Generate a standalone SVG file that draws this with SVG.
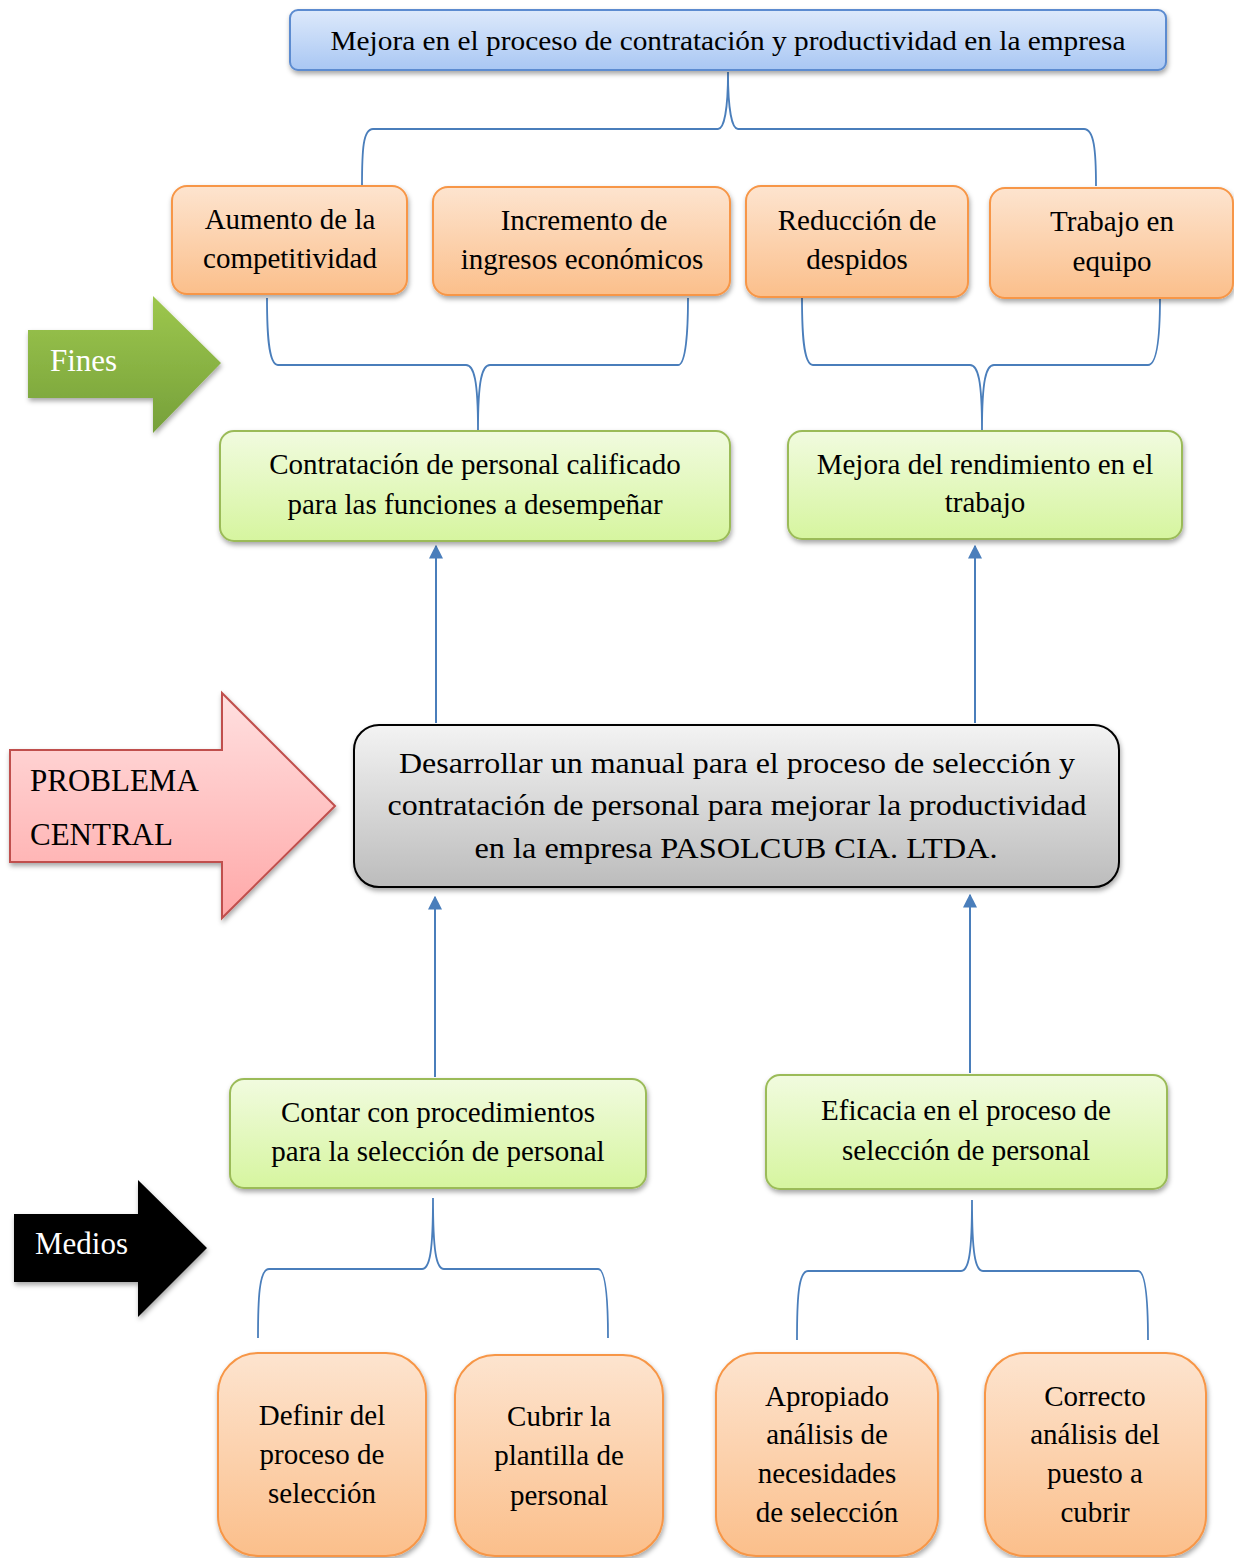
<svg xmlns="http://www.w3.org/2000/svg" width="1234" height="1558" viewBox="0 0 1234 1558">
<defs>
  <linearGradient id="gBlue" x1="0" y1="0" x2="0" y2="1"><stop offset="0" stop-color="#dde9fb"/><stop offset="1" stop-color="#a9c7f3"/></linearGradient>
  <linearGradient id="gOrange" x1="0" y1="0" x2="0" y2="1"><stop offset="0" stop-color="#fde4cf"/><stop offset="1" stop-color="#fbbf8b"/></linearGradient>
  <linearGradient id="gGreen" x1="0" y1="0" x2="0" y2="1"><stop offset="0" stop-color="#f1fbdf"/><stop offset="1" stop-color="#d6f59f"/></linearGradient>
  <linearGradient id="gGray" x1="0" y1="0" x2="0" y2="1"><stop offset="0" stop-color="#f3f3f3"/><stop offset="1" stop-color="#bcbcbc"/></linearGradient>
  <linearGradient id="gFines" x1="0" y1="0" x2="0" y2="1"><stop offset="0" stop-color="#9dc74d"/><stop offset="1" stop-color="#76a03a"/></linearGradient>
  <linearGradient id="gPink" x1="0" y1="0" x2="0" y2="1"><stop offset="0" stop-color="#ffe0e0"/><stop offset="1" stop-color="#ffa8a8"/></linearGradient>
  <filter id="sh" x="-10%" y="-10%" width="120%" height="130%"><feDropShadow dx="1" dy="3" stdDeviation="2.5" flood-color="#000" flood-opacity="0.35"/></filter>
  <marker id="ah" markerWidth="14" markerHeight="14" refX="9" refY="5" orient="auto" markerUnits="userSpaceOnUse" viewBox="0 0 10 10"><path d="M0,0 L10,5 L0,10 Z" fill="#4a7ebb"/></marker>
  <style>
    text{font-family:"Liberation Serif","Times New Roman",serif;fill:#000;}
    .t{font-size:29px;text-anchor:middle;}
    .c{font-size:30px;text-anchor:middle;}
    .o{fill:url(#gOrange);stroke:#f79646;stroke-width:2;filter:url(#sh);}
    .g{fill:url(#gGreen);stroke:#9bbb59;stroke-width:2;filter:url(#sh);}
    .brace{fill:none;stroke:#4a7ebb;stroke-width:1.8;}
    .arr{fill:none;stroke:#4a7ebb;stroke-width:2;}
    .w{fill:#fff;font-size:31px;}
  </style>
</defs>

<g id="connectors">
  <path class="brace" d="M362 186 C362 150 363 129 373 129 L718 129 C724 129 728 110 728 72 C728 110 732 129 738 129 L1084 129 C1094 129 1096 150 1096 186"/>
  <path class="brace" d="M267 298 C267 330 268 365 278 365 L466 365 C474 365 478 380 478 430 C478 380 482 365 490 365 L678 365 C686 365 688 330 688 298"/>
  <path class="brace" d="M802 298 C802 330 803 365 813 365 L970 365 C978 365 982 380 982 430 C982 380 986 365 994 365 L1148 365 C1158 365 1160 330 1160 298"/>
  <path class="brace" d="M258 1338 C258 1300 259 1269 269 1269 L422 1269 C430 1269 433 1250 433 1198 C433 1250 436 1269 444 1269 L598 1269 C606 1269 608 1300 608 1338"/>
  <path class="brace" d="M797 1340 C797 1302 798 1271 808 1271 L961 1271 C969 1271 972 1252 972 1200 C972 1252 975 1271 983 1271 L1138 1271 C1146 1271 1148 1302 1148 1340"/>
  <line class="arr" x1="436" y1="723" x2="436" y2="546" marker-end="url(#ah)"/>
  <line class="arr" x1="975" y1="723" x2="975" y2="546" marker-end="url(#ah)"/>
  <line class="arr" x1="435" y1="1077" x2="435" y2="897" marker-end="url(#ah)"/>
  <line class="arr" x1="970" y1="1073" x2="970" y2="895" marker-end="url(#ah)"/>
</g>

<g id="n-top">
  <rect x="290" y="10" width="876" height="60" rx="8" fill="url(#gBlue)" stroke="#5b8bd0" stroke-width="2" filter="url(#sh)"/>
  <text x="728" y="50" font-size="28" text-anchor="middle" textLength="795" lengthAdjust="spacingAndGlyphs">Mejora en el proceso de contratación y productividad en la empresa</text>
</g>

<g id="n-f1">
  <rect class="o" x="172" y="186" width="235" height="108" rx="15"/>
  <text class="t" x="290" y="229">Aumento de la</text>
  <text class="t" x="290" y="268">competitividad</text>
</g>
<g id="n-f2">
  <rect class="o" x="433" y="187" width="297" height="108" rx="15"/>
  <text class="t" x="584" y="230">Incremento de</text>
  <text class="t" x="582" y="269">ingresos económicos</text>
</g>
<g id="n-f3">
  <rect class="o" x="746" y="186" width="222" height="111" rx="15"/>
  <text class="t" x="857" y="230">Reducción de</text>
  <text class="t" x="857" y="269">despidos</text>
</g>
<g id="n-f4">
  <rect class="o" x="990" y="188" width="243" height="110" rx="15"/>
  <text class="t" x="1112" y="231">Trabajo en</text>
  <text class="t" x="1112" y="271">equipo</text>
</g>

<g id="n-fines">
  <path d="M28 330 L153 330 L153 296 L221 363 L153 433 L153 398 L28 398 Z" fill="url(#gFines)" filter="url(#sh)"/>
  <text class="w" x="50" y="371">Fines</text>
</g>

<g id="n-g1">
  <rect class="g" x="220" y="431" width="510" height="110" rx="14"/>
  <text class="t" x="475" y="474">Contratación de personal calificado</text>
  <text class="t" x="475" y="514">para las funciones a desempeñar</text>
</g>
<g id="n-g2">
  <rect class="g" x="788" y="431" width="394" height="108" rx="14"/>
  <text class="t" x="985" y="474">Mejora del rendimiento en el</text>
  <text class="t" x="985" y="512">trabajo</text>
</g>

<g id="n-problema">
  <path d="M10 750 L222 750 L222 693 L335 806 L222 918 L222 862 L10 862 Z" fill="url(#gPink)" stroke="#c0504d" stroke-width="2" filter="url(#sh)"/>
  <text x="30" y="791" font-size="31">PROBLEMA</text>
  <text x="30" y="845" font-size="31">CENTRAL</text>
</g>

<g id="n-central">
  <rect x="354" y="725" width="765" height="162" rx="25" fill="url(#gGray)" stroke="#000" stroke-width="2" filter="url(#sh)"/>
  <text class="c" x="737" y="773" textLength="676" lengthAdjust="spacingAndGlyphs">Desarrollar un manual para el proceso de selección y</text>
  <text class="c" x="737" y="815" textLength="699" lengthAdjust="spacingAndGlyphs">contratación de personal para mejorar la productividad</text>
  <text class="c" x="736" y="858" textLength="523" lengthAdjust="spacingAndGlyphs">en la empresa PASOLCUB CIA. LTDA.</text>
</g>

<g id="n-m1">
  <rect class="g" x="230" y="1079" width="416" height="109" rx="14"/>
  <text class="t" x="438" y="1122">Contar con procedimientos</text>
  <text class="t" x="438" y="1161">para la selección de personal</text>
</g>
<g id="n-m2">
  <rect class="g" x="766" y="1075" width="401" height="114" rx="14"/>
  <text class="t" x="966" y="1120">Eficacia en el proceso de</text>
  <text class="t" x="966" y="1160">selección de personal</text>
</g>

<g id="n-medios">
  <path d="M14 1214 L138 1214 L138 1180 L207 1248 L138 1317 L138 1282 L14 1282 Z" fill="#000" filter="url(#sh)"/>
  <text class="w" x="35" y="1254">Medios</text>
</g>

<g id="n-b1">
  <rect class="o" x="218" y="1353" width="208" height="203" rx="40"/>
  <text class="t" x="322" y="1425">Definir del</text>
  <text class="t" x="322" y="1464">proceso de</text>
  <text class="t" x="322" y="1503">selección</text>
</g>
<g id="n-b2">
  <rect class="o" x="455" y="1355" width="208" height="201" rx="40"/>
  <text class="t" x="559" y="1426">Cubrir la</text>
  <text class="t" x="559" y="1465">plantilla de</text>
  <text class="t" x="559" y="1505">personal</text>
</g>
<g id="n-b3">
  <rect class="o" x="716" y="1353" width="222" height="203" rx="40"/>
  <text class="t" x="827" y="1406">Apropiado</text>
  <text class="t" x="827" y="1444">análisis de</text>
  <text class="t" x="827" y="1483">necesidades</text>
  <text class="t" x="827" y="1522">de selección</text>
</g>
<g id="n-b4">
  <rect class="o" x="985" y="1353" width="221" height="203" rx="40"/>
  <text class="t" x="1095" y="1406">Correcto</text>
  <text class="t" x="1095" y="1444">análisis del</text>
  <text class="t" x="1095" y="1483">puesto a</text>
  <text class="t" x="1095" y="1522">cubrir</text>
</g>
</svg>
